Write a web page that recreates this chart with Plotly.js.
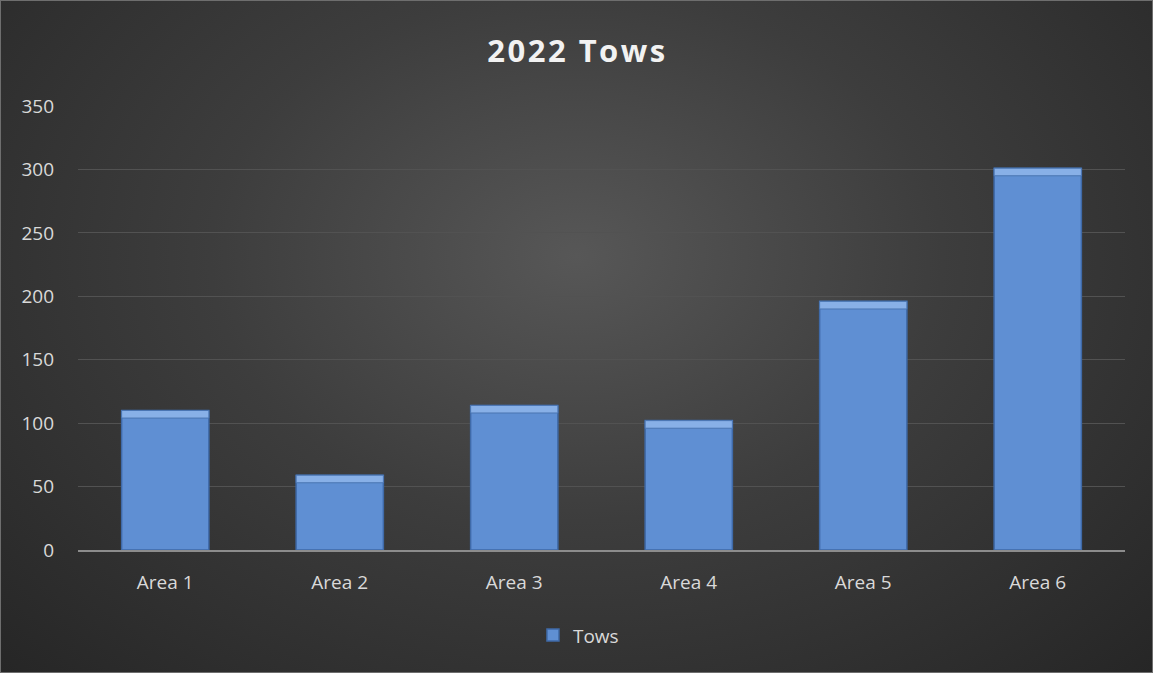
<!DOCTYPE html>
<html><head><meta charset="utf-8">
<script src="https://cdn.plot.ly/plotly-3.0.1.min.js"></script>
<style>
html,body{margin:0;padding:0;background:#262626;}
#chart{width:1153px;height:673px;box-sizing:border-box;border:1px solid #6e6e6e;
background:radial-gradient(ellipse at 50% 38%, #575757 0%, #3d3d3d 45%, #262626 100%);}
#chart .gtitle{letter-spacing:2.5px;}
</style></head>
<body><div id="chart"></div>
<script>
const categories = ['Area 1','Area 2','Area 3','Area 4','Area 5','Area 6'];
const tows = [110, 59, 114, 102, 196, 301];
const tickVals = [0,50,100,150,200,250,300,350];
const bevelDepth = 6;

const FONT = 'Open Sans, Noto Sans, sans-serif';
const trace = {
  type:'bar', x:categories, y:tows, name:'Tows',
  marker:{color:'#5f8fd3', line:{color:'#3f6aa8', width:1.5}},
  hoverinfo:'x+y'
};
const bevel = {
  type:'bar', x:categories, y:tows.map(()=>bevelDepth), base:tows.map(v=>v-bevelDepth),
  showlegend:false, hoverinfo:'skip',
  marker:{color:'#88b0e7', line:{color:'#4a75b2', width:1}}
};
const layout = {
  width:1153, height:673,
  paper_bgcolor:'rgba(0,0,0,0)', plot_bgcolor:'rgba(0,0,0,0)',
  margin:{l:77, r:29, t:105, b:124},
  barmode:'overlay',
  title:{text:'2022 Tows', x:0.5, xanchor:'center', y:0.925, yanchor:'middle',
    font:{family:FONT, size:31, color:'#f2f2f2', weight:'bold'}},
  bargap:0.5,
  xaxis:{showgrid:false, zeroline:false, showline:true, linecolor:'#8c8c8c', linewidth:2,
    tickfont:{family:FONT, size:19, color:'#d9d9d9'}, ticks:'', ticklabelstandoff:14},
  yaxis:{range:[0,350], tickvals:tickVals, gridcolor:'#525252', gridwidth:1, zeroline:false,
    showline:false, ticks:'', ticklabelstandoff:23,
    tickfont:{family:FONT, size:19, color:'#d9d9d9'}},
  showlegend:true,
  legend:{orientation:'h', x:0.478, xanchor:'center', y:-0.192, yanchor:'middle',
    font:{family:FONT, size:19, color:'#d9d9d9'}, itemwidth:30}
};
Plotly.newPlot('chart',[trace, bevel],layout,{displayModeBar:false});
</script></body></html>
